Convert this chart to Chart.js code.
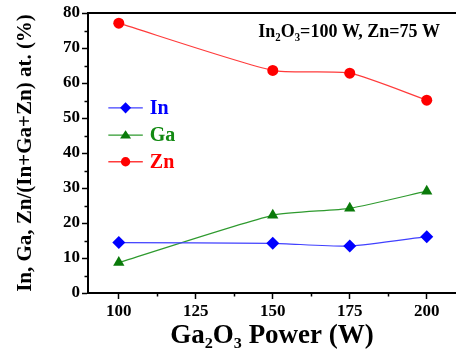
<!DOCTYPE html>
<html>
<head>
<meta charset="utf-8">
<script src="https://cdn.jsdelivr.net/npm/chart.js@4/dist/chart.umd.min.js"></script>
<style>
  html, body { margin: 0; padding: 0; background: #fff; }
  #wrap { width: 456px; height: 355px; position: relative; }
</style>
</head>
<body>
<div id="wrap"><canvas id="c" width="456" height="355"></canvas></div>
<script>
const powers = [100, 150, 175, 200];
const inValues = [14.4, 14.2, 13.4, 16.1];
const gaValues = [8.7, 22.2, 24.2, 29.1];
const znValues = [77.1, 63.6, 62.8, 55.1];
const seriesNames = ['In', 'Ga', 'Zn'];
const xTicks = [100, 125, 150, 175, 200];
const xMinorTicks = [112.5, 137.5, 162.5, 187.5];
const yTicks = [0, 10, 20, 30, 40, 50, 60, 70, 80];
const yMinorTicks = [5, 15, 25, 35, 45, 55, 65, 75];
const annotationText = 'In\u2082O\u2083=100 W, Zn=75 W';
const xTitle = 'Ga\u2082O\u2083 Power (W)';
const yTitle = 'In, Ga, Zn/(In+Ga+Zn) at. (%)';

const SERIF = '"Liberation Serif", "Times New Roman", serif';

function pts(vals) { return powers.map((p, i) => ({ x: p, y: vals[i] })); }

const decor = {
  id: 'decor',
  afterDraw(chart) {
    const ctx = chart.ctx;
    const ca = chart.chartArea;
    const xs = chart.scales.x, ys = chart.scales.y;
    ctx.save();
    // top frame line
    ctx.strokeStyle = '#000';
    ctx.lineWidth = 2;
    ctx.beginPath();
    ctx.moveTo(ca.left - 1, ca.top);
    ctx.lineTo(ca.right, ca.top);
    ctx.stroke();
    // minor ticks
    ctx.lineWidth = 1.5;
    ctx.beginPath();
    xMinorTicks.forEach(v => {
      const px = Math.round(xs.getPixelForValue(v)) + 0.5;
      ctx.moveTo(px, ca.bottom);
      ctx.lineTo(px, ca.bottom + 3.5);
    });
    yMinorTicks.forEach(v => {
      const py = Math.round(ys.getPixelForValue(v)) + 0.5;
      ctx.moveTo(ca.left, py);
      ctx.lineTo(ca.left - 3.5, py);
    });
    ctx.stroke();
    // annotation
    ctx.fillStyle = '#000';
    ctx.font = 'bold 18px ' + SERIF;
    ctx.textBaseline = 'middle';
    ctx.textAlign = 'right';
    ctx.fillText(annotationText, ca.right - 16, ys.getPixelForValue(74.6));
    // legend
    const lx0 = xs.getPixelForValue(96.6);
    const lx1 = xs.getPixelForValue(107.8);
    const lmid = (lx0 + lx1) / 2;
    const legendY = [52.9, 45.1, 37.5].map(v => ys.getPixelForValue(v));
    chart.data.datasets.forEach((ds, i) => {
      const y = legendY[i];
      ctx.strokeStyle = ds.borderColor;
      ctx.lineWidth = 1.3;
      ctx.beginPath();
      ctx.moveTo(lx0, y);
      ctx.lineTo(lx1, y);
      ctx.stroke();
      ctx.fillStyle = ds.pointBackgroundColor;
      const r = ds.pointRadius * 0.85;
      ctx.beginPath();
      if (ds.pointStyle === 'rectRot') {
        ctx.moveTo(lmid - r, y); ctx.lineTo(lmid, y - r); ctx.lineTo(lmid + r, y); ctx.lineTo(lmid, y + r);
      } else if (ds.pointStyle === 'triangle') {
        ctx.moveTo(lmid - r, y + r * 0.6); ctx.lineTo(lmid, y - r * 0.9); ctx.lineTo(lmid + r, y + r * 0.6);
      } else {
        ctx.arc(lmid, y, r, 0, Math.PI * 2);
      }
      ctx.closePath();
      ctx.fill();
      ctx.fillStyle = ds.labelColor;
      ctx.font = 'bold 20px ' + SERIF;
      ctx.textAlign = 'left';
      ctx.textBaseline = 'middle';
      ctx.fillText(ds.label, lx1 + 7, y + 1);
    });
    ctx.restore();
  }
};

const common = {
  showLine: true,
  borderWidth: 1.2,
  tension: 0.2,
  pointBorderWidth: 0,
};

new Chart(document.getElementById('c'), {
  type: 'scatter',
  data: {
    datasets: [
      Object.assign({}, common, {
        label: seriesNames[0], data: pts(inValues),
        borderColor: '#4040ff', backgroundColor: '#0000ff', pointBackgroundColor: '#0000ff',
        labelColor: '#0000ff', pointStyle: 'rectRot', pointRadius: 6.5
      }),
      Object.assign({}, common, {
        label: seriesNames[1], data: pts(gaValues),
        borderColor: '#2e9a2e', backgroundColor: '#0a7a0a', pointBackgroundColor: '#0a7a0a',
        labelColor: '#138a13', pointStyle: 'triangle', pointRadius: 6.5
      }),
      Object.assign({}, common, {
        label: seriesNames[2], data: pts(znValues),
        borderColor: '#ff3b3b', backgroundColor: '#ff0000', pointBackgroundColor: '#ff0000',
        labelColor: '#ff0000', pointStyle: 'circle', pointRadius: 5.5
      })
    ]
  },
  options: {
    responsive: false,
    animation: false,
    layout: { autoPadding: false, padding: { top: 13, right: 0, left: 0, bottom: 0 } },
    plugins: { legend: { display: false }, tooltip: { enabled: false } },
    scales: {
      x: {
        type: 'linear', min: 90, max: 209.5,
        afterBuildTicks: s => { s.ticks = xTicks.map(v => ({ value: v })); },
        afterFit: s => { s.height = 62; s.paddingRight = 0; s.paddingLeft = 0; },
        grid: { drawOnChartArea: false, tickLength: 6, tickWidth: 1.5, tickColor: '#000' },
        border: { display: true, color: '#000', width: 2 },
        ticks: { color: '#000', font: { family: SERIF, size: 17, weight: 'bold' }, padding: 2, maxRotation: 0 },
        title: { display: true, text: xTitle, color: '#000', font: { family: SERIF, size: 27, weight: 'bold' }, padding: { top: 0, bottom: 3 } }
      },
      y: {
        type: 'linear', min: 0, max: 80,
        afterBuildTicks: s => { s.ticks = yTicks.map(v => ({ value: v })); },
        afterFit: s => { s.width = 88; },
        grid: { drawOnChartArea: false, tickLength: 6, tickWidth: 1.5, tickColor: '#000' },
        border: { display: true, color: '#000', width: 2 },
        ticks: { color: '#000', font: { family: SERIF, size: 17, weight: 'bold' }, padding: 2 },
        title: { display: true, text: yTitle, color: '#000', font: { family: SERIF, size: 21, weight: 'bold' }, padding: { top: 13, bottom: 0 } }
      }
    }
  },
  plugins: [decor]
});
</script>
</body>
</html>
